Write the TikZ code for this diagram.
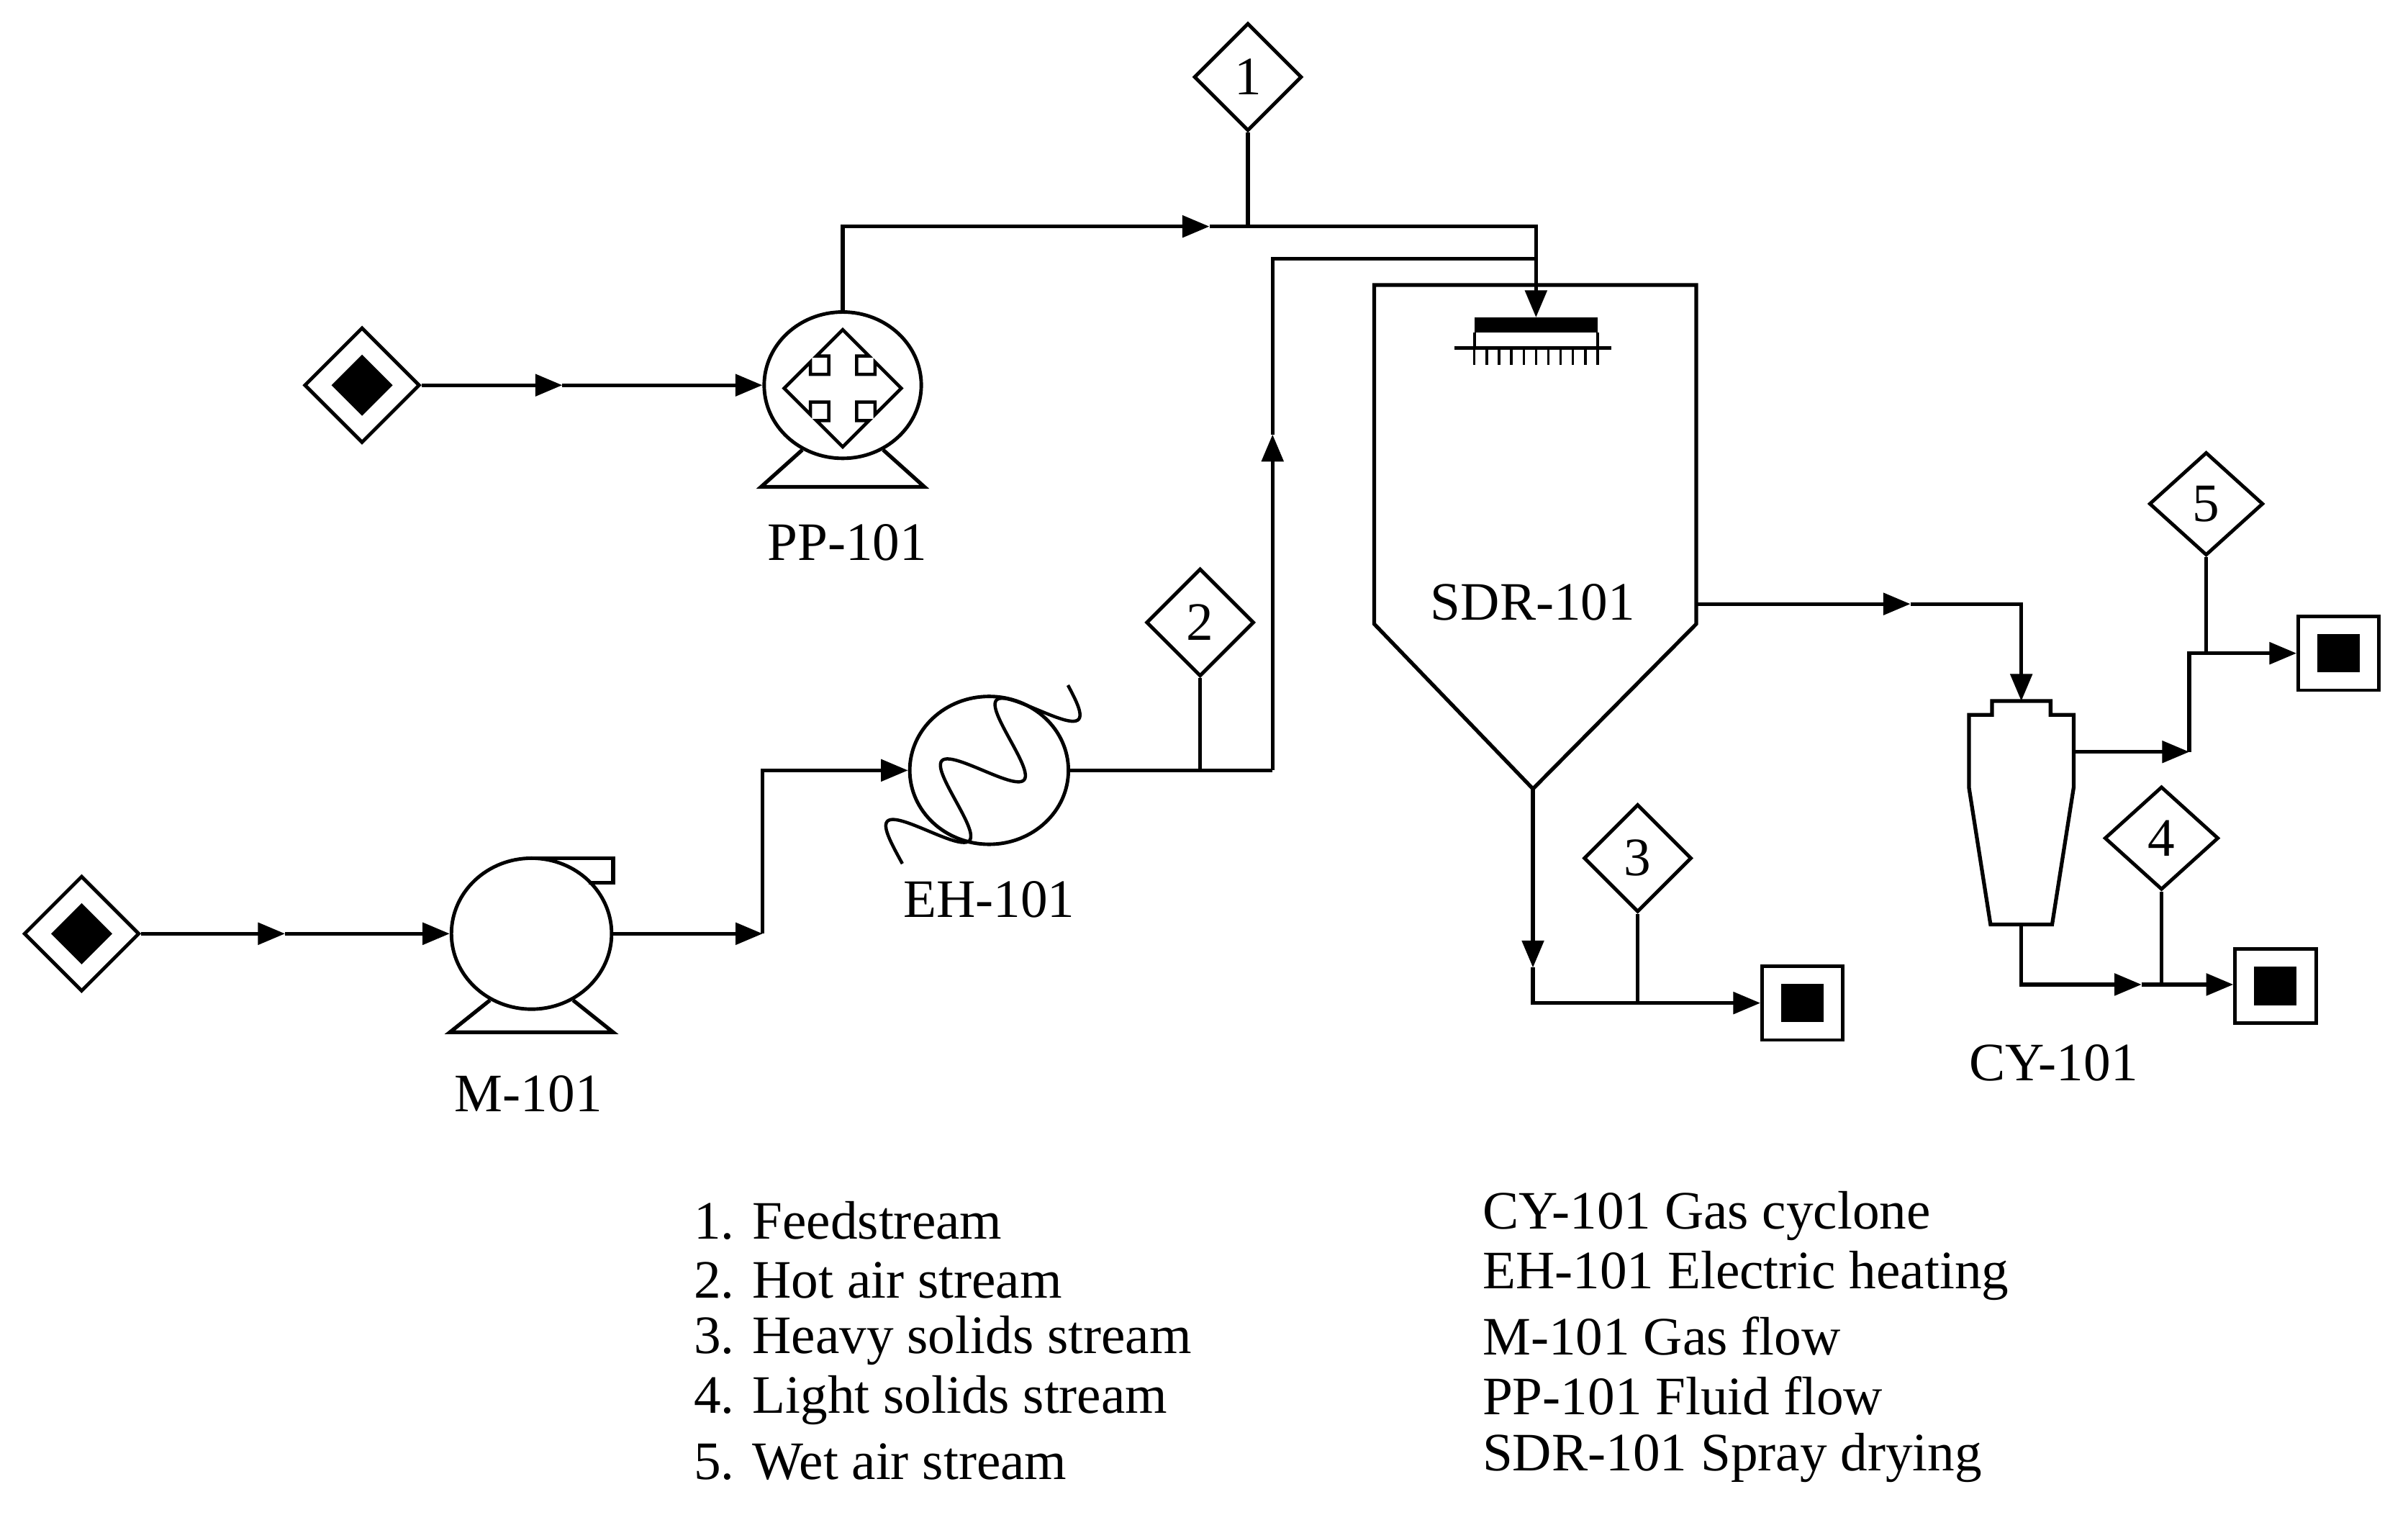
\documentclass[tikz,border=0pt]{standalone}
\usepackage{fontspec}
\setmainfont{Liberation Serif}
\usetikzlibrary{shapes.geometric,arrows.meta,positioning}
\newcommand\lbl{\fontsize{20}{24}\selectfont}
\begin{document}
\begin{tikzpicture}[x=0.02cm,y=-0.02cm]
		\tikzstyle{pipe}=[line width=1.4pt]
		\tikzstyle{flow}=[pipe, -{Triangle[length=10pt,width=8pt]}]
		\tikzstyle{tag}=[diamond, draw, line width=1.3pt, minimum width=1.4cm, minimum height=1.4cm, inner sep=0pt, font=\lbl]
		\tikzstyle{src}=[diamond, draw, line width=1.3pt, minimum width=1.5cm, minimum height=1.5cm, inner sep=0pt]
		\tikzstyle{srcin}=[diamond, fill=black, minimum width=0.8cm, minimum height=0.8cm, inner sep=0pt]
		\tikzstyle{sink}=[rectangle, draw, line width=1.3pt, minimum width=1.05cm, minimum height=0.96cm, inner sep=0pt]
		\tikzstyle{sinkin}=[rectangle, fill=black, minimum width=0.55cm, minimum height=0.5cm, inner sep=0pt]
		\tikzstyle{unit}=[ellipse, draw, line width=1.3pt, minimum width=2.04cm, minimum height=1.94cm, inner sep=0pt]
		\tikzstyle{lbl}=[font=\lbl, inner sep=0pt]
		\useasboundingbox (0,0) rectangle (1563,983);
		
		% sources and sinks
		\node[src] (s1) at (235,250) {};
		\node[srcin] at (s1) {};
		\node[src] (s2) at (53,606) {};
		\node[srcin] at (s2) {};
		\node[sink] (k3) at (1170,651) {};
		\node[sinkin] at (k3) {};
		\node[sink] (k5) at (1518,424) {};
		\node[sinkin] at (k5) {};
		\node[sink] (k4) at (1477,640) {};
		\node[sinkin] at (k4) {};
		
		% stream tags
		\node[tag] (t1) at (810,50) {1};
		\node[tag] (t2) at (779,404) {2};
		\node[tag] (t3) at (1063,557) {3};
		\node[tag, minimum width=1.48cm, minimum height=1.34cm] (t4) at (1403,544) {4};
		\node[tag, minimum width=1.48cm, minimum height=1.34cm] (t5) at (1432,327) {5};
		
		% PP-101
		\node[unit, minimum height=1.9cm] (pp) at (547,250) {};
		\draw[pipe] (pp.-122) -- (494,316) -- (600,316) -- (pp.-58);
		\draw[line width=1.2pt, shift={(547,252)}] (0,-38) -- (17,-21) -- (9,-21) -- (9,-9) -- (21,-9) -- (21,-17) -- (38,0)
			-- (21,17) -- (21,9) -- (9,9) -- (9,21) -- (17,21) -- (0,38) -- (-17,21) -- (-9,21) -- (-9,9) -- (-21,9) -- (-21,17)
			-- (-38,0) -- (-21,-17) -- (-21,-9) -- (-9,-9) -- (-9,-21) -- (-17,-21) -- cycle;
		\node[lbl] at (550,352) {PP-101};
		
		% M-101
		\node[unit, minimum width=2.08cm, minimum height=1.96cm] (m) at (345,606) {};
		\draw[pipe] (345,557) -- (398,557) -- (398,573) -- (382,573);
		\draw[pipe] (m.-122) -- (292,670) -- (398,670) -- (m.-58);
		\node[lbl] at (343,710) {M-101};
		
		% EH-101
		\node[unit, minimum width=2.06cm, minimum height=1.92cm] (eh) at (642,500) {};
		\draw[line width=1.2pt, shift={(638,500)}, rotate=48] plot[domain=-80:78, samples=150, smooth] (\x,{24*sin(\x*6.8)});
		\node[lbl] at (642,584) {EH-101};
		
		% SDR-101
		\draw[pipe] (892,405) -- (892,185) -- (1101,185) -- (1101,405) -- (995,512) -- cycle;
		\coordinate (sdrbot) at (995,512);
		\coordinate (sdrside) at (1101,392);
		\coordinate (nz) at (997,206);
		\fill (957,206) rectangle (1037,216);
		\draw[line width=1.1pt] (957,216) -- (957,226) (1037,216) -- (1037,226);
		\draw[line width=1.4pt] (944,226) -- (1046,226);
		\foreach \t in {0,...,10}
			\draw[line width=0.9pt] (957+8*\t,226) -- (957+8*\t,237);
		\node[lbl] at (995,391) {SDR-101};
		
		% CY-101
		\draw[pipe] (1293,455) -- (1331,455) -- (1331,464) -- (1346,464) -- (1346,511) -- (1332,600) -- (1292,600)
			-- (1278,511) -- (1278,464) -- (1293,464) -- cycle;
		\coordinate (cyin) at (1312,455);
		\coordinate (cygas) at (1346,488);
		\coordinate (cybot) at (1312,600);
		\node[lbl] at (1333,690) {CY-101};
		
		% feed line
		\coordinate (a1) at (365,250);
		\draw[flow] (s1.east) -- (a1);
		\draw[flow] (a1) -- (pp.west);
		\coordinate (a2) at (785,147);
		\coordinate (j1) at (997,147);
		\draw[flow] (pp.north) |- (a2);
		\draw[flow] (a2) -- (j1) -- (nz);
		\draw[pipe] (t1.south) -- (t1.south |- j1);
		
		% air line
		\coordinate (a3) at (185,606);
		\draw[flow] (s2.east) -- (a3);
		\draw[flow] (a3) -- (m.west);
		\coordinate (a4) at (495,606);
		\draw[flow] (m.east) -- (a4);
		\draw[flow] (a4) |- (eh.west);
		\coordinate (a5) at (826,500);
		\coordinate (a6) at (826,282);
		\draw[pipe] (eh.east) -- (a5);
		\draw[flow] (a5) -- (a6);
		\draw[pipe] (a6) |- (j1 |- 0,168);
		\draw[pipe] (t2.south) -- (t2.south |- a5);
		
		% heavy solids
		\coordinate (a7) at (995,628);
		\draw[flow] (sdrbot) -- (a7);
		\draw[flow] (a7) |- (k3.west);
		\draw[pipe] (t3.south) -- (t3.south |- k3);
		
		% gas to cyclone
		\coordinate (a9) at (1240,392);
		\draw[flow] (sdrside) -- (a9);
		\draw[flow] (a9) -| (cyin);
		
		% wet air
		\coordinate (a10) at (1421,488);
		\draw[flow] (cygas) -- (a10);
		\draw[flow] (a10) |- (k5.west);
		\draw[pipe] (t5.south) -- (t5.south |- k5);
		
		% light solids
		\coordinate (a11) at (1390,639);
		\draw[flow] (cybot) |- (a11);
		\draw[flow] (a11) -- (k4.west |- a11);
		\draw[pipe] (t4.south) -- (t4.south |- a11);
		
		% legend
		\node[lbl, anchor=west] at (450,792) {1. Feedstream};
		\node[lbl, anchor=west] at (450,831) {2. Hot air stream};
		\node[lbl, anchor=west] at (450,870) {3. Heavy solids stream};
		\node[lbl, anchor=west] at (450,909) {4. Light solids stream};
		\node[lbl, anchor=west] at (450,949) {5. Wet air stream};
		\node[lbl, anchor=west] at (962,789) {CY-101 Gas cyclone};
		\node[lbl, anchor=west] at (962,828) {EH-101 Electric heating};
		\node[lbl, anchor=west] at (962,867) {M-101 Gas flow};
		\node[lbl, anchor=west] at (962,906) {PP-101 Fluid flow};
		\node[lbl, anchor=west] at (962,946) {SDR-101 Spray drying};
	\end{tikzpicture}
\end{document}
